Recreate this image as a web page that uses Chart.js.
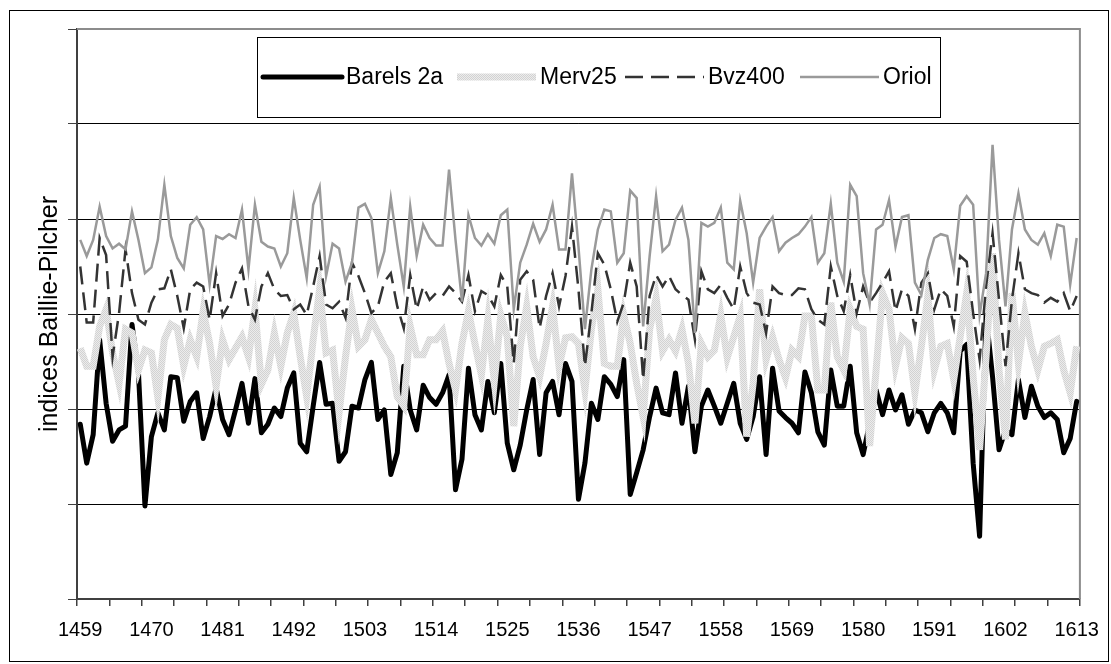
<!DOCTYPE html>
<html>
<head>
<meta charset="utf-8">
<script src="https://cdn.jsdelivr.net/npm/chart.js@4.4.1/dist/chart.umd.min.js"></script>
<style>
  html, body { margin: 0; padding: 0; background: #fff; }
  #wrap { width: 1111px; height: 664px; }
</style>
</head>
<body>
<div id="wrap"><canvas id="chart" width="1111" height="664"></canvas></div>
<script>
// years 1459..1613, one label every 11 years
const years = Array.from({ length: 155 }, (_, i) => String(1459 + i));
const labelStep = 11;
const tickStep = 5;

const barels = [
  1.84,1.43,1.73,2.73,2.06,1.66,1.78,1.82,2.89,2.38,
  0.98,1.71,1.96,1.78,2.34,2.33,1.87,2.08,2.17,1.69,
  1.92,2.22,1.89,1.73,1.99,2.27,1.85,2.32,1.75,1.84,
  2.01,1.92,2.22,2.38,1.64,1.55,2.03,2.49,2.05,2.06,
  1.45,1.55,2.03,2.01,2.31,2.49,1.89,1.99,1.31,1.54,
  2.45,1.99,1.78,2.25,2.12,2.05,2.17,2.36,1.15,1.47,
  2.43,1.94,1.78,2.29,1.96,2.48,1.64,1.36,1.62,1.99,
  2.31,1.52,2.17,2.29,1.94,2.48,2.29,1.05,1.43,2.06,
  1.89,2.34,2.26,2.13,2.52,1.10,1.33,1.57,1.92,2.22,
  1.96,1.94,2.38,1.85,2.24,1.55,2.03,2.20,2.03,1.85,
  2.06,2.27,1.85,1.68,1.92,2.34,1.52,2.43,1.98,1.91,
  1.85,1.75,2.39,2.17,1.76,1.62,2.41,2.03,2.03,2.45,
  1.75,1.52,1.85,2.20,1.94,2.20,1.99,2.15,1.84,1.99,
  1.96,1.76,1.96,2.06,1.96,1.75,2.61,2.68,1.43,0.66,
  2.99,2.34,1.57,1.78,1.73,2.31,1.91,2.24,2.03,1.91,
  1.96,1.89,1.54,1.69,2.08
];

const merv25 = [
  2.64,2.45,2.45,2.87,3.05,2.59,2.27,2.84,2.80,2.41,
  2.62,2.59,2.12,2.73,2.89,2.85,2.45,2.73,2.55,3.03,
  2.69,2.24,2.73,2.52,2.64,2.76,2.55,3.05,2.26,2.41,
  2.80,2.45,2.80,3.01,2.55,2.13,2.73,3.26,2.59,2.62,
  1.96,2.55,3.05,2.66,2.73,2.94,2.80,2.66,2.55,2.13,
  2.03,2.87,2.57,2.57,2.73,2.73,2.82,2.48,2.20,2.69,
  3.03,2.69,2.36,2.94,2.29,2.99,2.76,1.82,2.66,3.08,
  2.55,2.34,2.69,3.08,2.45,2.75,2.76,2.69,2.20,2.84,
  3.26,2.48,2.45,2.45,2.99,2.69,2.27,1.92,2.84,3.17,
  2.61,2.73,2.61,2.84,2.48,1.85,2.69,2.55,2.62,2.99,
  2.54,2.76,2.98,1.71,2.27,3.26,2.52,2.76,2.52,2.33,
  2.62,2.55,2.98,2.98,2.20,2.20,3.12,2.55,2.41,3.05,
  2.87,2.84,1.61,2.41,3.22,3.05,2.45,2.75,2.69,2.17,
  2.66,3.19,2.41,2.66,2.69,2.31,2.76,3.22,2.34,1.57,
  2.55,3.64,2.41,1.68,3.22,2.48,3.01,2.66,2.41,2.66,
  2.69,2.73,2.41,2.17,2.66
];

const bvz400 = [
  3.50,2.91,2.91,3.80,3.62,2.55,3.01,3.68,3.22,2.94,
  2.89,3.12,3.26,3.27,3.47,3.19,2.85,3.26,3.33,3.29,
  2.94,3.43,2.98,3.10,3.33,3.48,3.08,2.94,3.29,3.43,
  3.26,3.19,3.20,3.05,3.10,2.99,3.29,3.61,3.10,3.06,
  3.13,2.96,3.54,3.40,3.22,3.01,3.08,3.34,3.43,3.08,
  2.85,3.41,3.05,3.29,3.15,3.22,3.19,3.29,3.22,3.13,
  3.41,3.03,3.24,3.20,3.08,3.41,3.29,2.48,3.36,3.45,
  3.36,2.85,3.19,3.43,3.08,3.40,3.92,3.26,2.45,3.01,
  3.64,3.52,3.26,2.92,3.12,3.54,3.29,2.31,3.19,3.41,
  3.29,3.40,3.26,3.20,3.15,2.73,3.45,3.26,3.22,3.31,
  3.17,3.05,3.50,3.22,3.12,3.10,2.80,3.29,3.22,3.20,
  3.20,3.27,3.26,3.05,2.94,2.89,3.50,3.19,3.03,3.41,
  3.01,3.29,3.12,3.22,3.33,3.45,3.03,3.26,3.19,2.84,
  3.33,3.43,3.05,3.26,3.19,2.87,3.61,3.55,3.01,2.52,
  3.29,3.85,3.15,2.45,3.15,3.64,3.26,3.22,3.20,3.12,
  3.17,3.13,3.22,3.03,3.19
];

const oriol = [
  3.78,3.61,3.78,4.13,3.82,3.69,3.74,3.68,4.08,3.78,
  3.43,3.49,3.78,4.36,3.82,3.59,3.48,3.94,4.02,3.89,
  3.31,3.82,3.79,3.84,3.80,4.10,3.47,4.15,3.76,3.71,
  3.69,3.50,3.64,4.22,3.78,3.38,4.15,4.34,3.40,3.74,
  3.69,3.34,3.54,4.12,4.16,4.01,3.43,3.66,4.22,3.73,
  3.29,4.13,3.61,3.94,3.80,3.72,3.72,4.52,3.78,3.13,
  4.04,3.80,3.72,3.84,3.74,4.04,4.10,3.05,3.54,3.73,
  3.95,3.76,3.89,4.15,3.68,3.68,4.48,3.71,2.84,3.47,
  3.89,4.10,4.08,3.54,3.64,4.30,4.22,2.87,3.61,4.24,
  3.66,3.73,3.99,4.12,3.78,2.80,3.96,3.92,3.96,4.12,
  3.54,3.47,4.19,3.85,3.33,3.80,3.92,4.02,3.66,3.75,
  3.80,3.84,3.92,4.02,3.54,3.64,4.16,3.54,3.34,4.36,
  4.24,3.43,3.10,3.89,3.94,4.20,3.71,4.02,4.04,3.33,
  3.20,3.57,3.80,3.84,3.82,3.47,4.14,4.24,4.15,2.99,
  3.43,4.78,3.78,3.08,3.89,4.27,3.89,3.78,3.73,3.85,
  3.61,3.94,3.92,3.31,3.80
];

const FONT = '"Liberation Sans", Arial, sans-serif';

// light grey dotted fill for Merv25
function dotPattern() {
  const c = document.createElement('canvas');
  c.width = 2; c.height = 2;
  const g = c.getContext('2d');
  g.fillStyle = '#ececec';
  g.fillRect(0, 0, 2, 2);
  g.fillStyle = '#d2d2d2';
  g.fillRect(0, 0, 1, 1);
  g.fillRect(1, 1, 1, 1);
  return g.createPattern(c, 'repeat');
}
const mervColor = dotPattern();

// legend positions (line start x)
const legendLines = [263, 457, 625, 800];

const framePlugin = {
  id: 'frame',
  beforeDraw(chart) {
    const ctx = chart.ctx;
    ctx.save();
    ctx.fillStyle = '#fff';
    ctx.fillRect(0, 0, chart.width, chart.height);
    ctx.restore();
  },
  beforeDatasetsDraw(chart) {
    const { ctx, chartArea: a } = chart;
    ctx.save();
    ctx.strokeStyle = '#8c8c8c';
    ctx.lineWidth = 2;
    ctx.beginPath();
    ctx.moveTo(a.left, a.top);
    ctx.lineTo(a.right, a.top);
    ctx.lineTo(a.right, a.bottom);
    ctx.stroke();
    ctx.restore();
  },
  afterDatasetsDraw(chart) {
    const ctx = chart.ctx;
    ctx.save();
    ctx.fillStyle = '#fff';
    ctx.fillRect(257.5, 37.5, 683, 80);
    ctx.strokeStyle = '#000';
    ctx.lineWidth = 1;
    ctx.strokeRect(257.5, 37.5, 683, 80);
    const y = 77;
    chart.data.datasets.forEach((ds, i) => {
      const x0 = legendLines[i];
      ctx.save();
      ctx.strokeStyle = ds.borderColor;
      ctx.lineWidth = ds.borderWidth;
      ctx.lineCap = ds.borderCapStyle || 'butt';
      ctx.setLineDash(ds.borderDash || []);
      ctx.beginPath();
      ctx.moveTo(x0, y);
      ctx.lineTo(x0 + 79, y);
      ctx.stroke();
      ctx.restore();
      ctx.fillStyle = '#000';
      ctx.font = '23px ' + FONT;
      ctx.textBaseline = 'middle';
      ctx.fillText(ds.label, x0 + 83, y + 1);
    });
    ctx.restore();
  },
  afterDraw(chart) {
    const ctx = chart.ctx;
    ctx.save();
    ctx.strokeStyle = '#000';
    ctx.lineWidth = 1;
    ctx.strokeRect(9.5, 10.5, 1099, 651);
    ctx.restore();
  }
};

new Chart(document.getElementById('chart'), {
  type: 'line',
  data: {
    labels: years,
    datasets: [
      { label: 'Barels 2a', data: barels, borderColor: '#000', borderWidth: 5,
        borderJoinStyle: 'round', borderCapStyle: 'round', order: 3 },
      { label: 'Merv25', data: merv25, borderColor: mervColor, borderWidth: 7,
        borderJoinStyle: 'miter', order: 2 },
      { label: 'Bvz400', data: bvz400, borderColor: '#333', borderWidth: 2.5,
        borderDash: [18, 8], order: 1 },
      { label: 'Oriol', data: oriol, borderColor: '#9a9a9a', borderWidth: 2.5,
        order: 0 }
    ]
  },
  options: {
    responsive: false,
    animation: false,
    events: [],
    elements: { point: { radius: 0 }, line: { tension: 0, fill: false } },
    layout: { padding: { top: 29, right: 27, left: 0, bottom: 0 }, autoPadding: false },
    plugins: { legend: { display: false }, tooltip: { enabled: false } },
    scales: {
      x: {
        type: 'category',
        offset: true,
        afterFit: (s) => { s.height = 65; },
        border: { color: '#404040', width: 2 },
        grid: {
          offset: true,
          drawOnChartArea: false,
          drawTicks: true,
          tickLength: 7,
          color: (c) => (c.index === undefined || c.index % tickStep === 0) ? '#404040' : 'rgba(0,0,0,0)',
          lineWidth: 1.5
        },
        ticks: {
          autoSkip: false,
          maxRotation: 0,
          padding: 12,
          color: '#000',
          font: { family: FONT, size: 20 },
          callback: (v, i) => (i % labelStep === 0 ? years[i] : '')
        }
      },
      y: {
        min: 0,
        max: 6,
        afterFit: (s) => { s.width = 77; },
        border: { color: '#404040', width: 2 },
        grid: {
          color: (c) => (c.tick.value === 0 || c.tick.value === 6) ? 'rgba(0,0,0,0)' : '#000',
          tickColor: '#404040',
          tickLength: 9,
          lineWidth: 1
        },
        ticks: { stepSize: 1, display: false },
        title: {
          display: true,
          text: 'indices Baillie-Pilcher',
          color: '#000',
          font: { family: FONT, size: 25 },
          padding: { top: 35, bottom: 0 }
        }
      }
    }
  },
  plugins: [framePlugin]
});
</script>
</body>
</html>
